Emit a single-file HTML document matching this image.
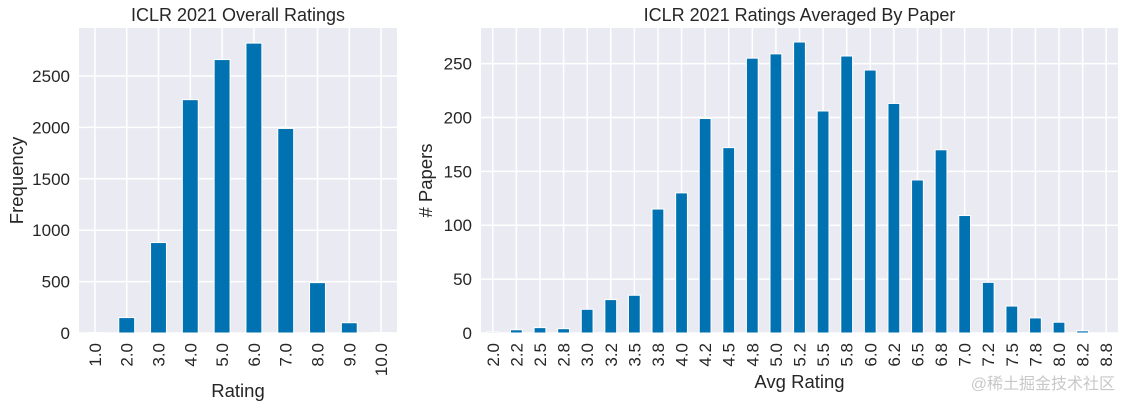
<!DOCTYPE html>
<html><head><meta charset="utf-8"><style>
body{margin:0;background:#fff;width:1127px;height:407px;overflow:hidden}
svg text{font-family:"Liberation Sans","Noto Sans CJK SC",sans-serif;fill:#262626}
</style></head><body>
<svg id="s" width="1127" height="407" xmlns="http://www.w3.org/2000/svg"></svg>
<script>
const leftCats=["1.0","2.0","3.0","4.0","5.0","6.0","7.0","8.0","9.0","10.0"];
const leftVals=[5,150,880,2270,2660,2820,1990,490,100,5];
const leftTicks=[0,500,1000,1500,2000,2500];
const rightCats=["2.0","2.2","2.5","2.8","3.0","3.2","3.5","3.8","4.0","4.2","4.5","4.8","5.0","5.2","5.5","5.8","6.0","6.2","6.5","6.8","7.0","7.2","7.5","7.8","8.0","8.2","8.8"];
const rightVals=[1,3,5,4,22,31,35,115,130,199,172,255,259,270,206,257,244,213,142,170,109,47,25,14,10,2,0];
const rightTicks=[0,50,100,150,200,250];
const NS="http://www.w3.org/2000/svg",svg=document.getElementById('s');
function mk(t,a,p){const e=document.createElementNS(NS,t);for(const k in a)e.setAttribute(k,a[k]);(p||svg).appendChild(e);return e;}
function chart(o){
  const g=mk('g',{});
  
  
  const bg=mk('rect',{x:o.x0,y:o.y0,width:o.x1-o.x0,height:o.y1-o.y0,fill:'#eaeaf2'},g);
  
  const n=o.cats.length,step=(o.x1-o.x0)/n;
  const xs=i=>o.x0+step*(i+0.5);
  const ys=v=>o.y1-(v/o.ymax)*(o.y1-o.y0);
  o.ticks.forEach(t=>{
    const l=mk('line',{x1:o.x0,x2:o.x1,y1:ys(t),y2:ys(t),stroke:'#fff','stroke-width':1.5},g);
    
    const tx=mk('text',{x:o.x0-9,y:ys(t)+6,'text-anchor':'end','font-size':17},g);tx.textContent=t;
    
  });
  o.cats.forEach((c,i)=>{
    const l=mk('line',{x1:xs(i),x2:xs(i),y1:o.y0,y2:o.y1,stroke:'#fff','stroke-width':1.5},g);
    
  });
  o.vals.forEach((v,i)=>{
    const bw=step*0.5;
    const r=mk('rect',{x:xs(i)-bw/2,y:ys(v),width:bw,height:o.y1-ys(v),fill:'#0072b2',stroke:'#fff','stroke-width':1},g);
    
    const tx=mk('text',{x:0,y:0,'text-anchor':'end','font-size':17,transform:`translate(${xs(i)+6},${o.y1+10}) rotate(-90)`},g);
    tx.textContent=o.cats[i];
    
  });
  const t=mk('text',{x:(o.x0+o.x1)/2,y:21,'text-anchor':'middle','font-size':18},g);t.textContent=o.title;
  
  const xl=mk('text',{x:(o.x0+o.x1)/2,y:o.xly,'text-anchor':'middle','font-size':18.5},g);xl.textContent=o.xlabel;
  
  const yl=mk('text',{x:0,y:0,'text-anchor':'middle','font-size':18.5,transform:`translate(${o.ylx},${(o.y0+o.y1)/2}) rotate(-90)`},g);yl.textContent=o.ylabel;
  
}
chart({name:'overall-ratings-chart',x0:79,x1:397,y0:28,y1:333,ymax:2967,cats:leftCats,vals:leftVals,ticks:leftTicks,title:'ICLR 2021 Overall Ratings',xlabel:'Rating',ylabel:'Frequency',xly:397,ylx:23});
chart({name:'averaged-ratings-chart',x0:481,x1:1118,y0:28,y1:333,ymax:283,cats:rightCats,vals:rightVals,ticks:rightTicks,title:'ICLR 2021 Ratings Averaged By Paper',xlabel:'Avg Rating',ylabel:'# Papers',xly:388,ylx:432});
const w=mk('text',{x:1115,y:389,'text-anchor':'end','font-size':16,style:'fill:#c8c8c8'});w.textContent='@稀土掘金技术社区';

</script>
</body></html>
